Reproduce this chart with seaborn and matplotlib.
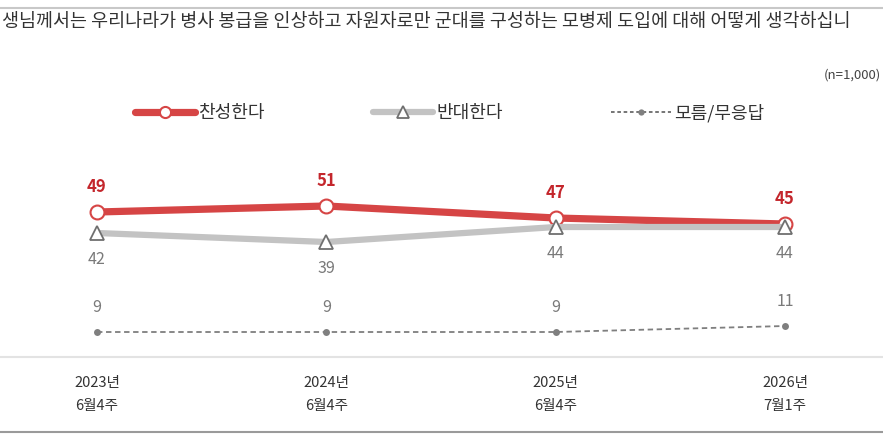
import seaborn as sns
import matplotlib.pyplot as plt
import pandas as pd

# survey waves and results (%)
periods = ["2023년\n6월4주", "2024년\n6월4주", "2025년\n6월4주", "2026년\n7월1주"]
agree = [49, 51, 47, 45]
disagree = [42, 39, 44, 44]
unknown = [9, 9, 9, 11]

TITLE = "생님께서는 우리나라가 병사 봉급을 인상하고 자원자로만 군대를 구성하는 모병제 도입에 대해 어떻게 생각하십니"

RED = "#d64545"
RED_TXT = "#c4262c"
GRAY = "#c3c3c3"
GRAY_TXT = "#7a7a7a"
DOT = "#7f7f7f"

sns.set_theme(style="white")
plt.rcParams['font.family'] = ['Noto Sans CJK KR', 'DejaVu Sans']

df = pd.DataFrame({"x": range(len(periods)), "agree": agree,
                   "disagree": disagree, "unknown": unknown})

fig = plt.figure(figsize=(8.83, 4.42), dpi=100)
ax = fig.add_axes([0, 85 / 442, 1, 207 / 442])

sns.lineplot(data=df, x="x", y="unknown", ax=ax, color=DOT, lw=1.3,
             linestyle=(0, (3, 2)), marker="o", markersize=5,
             markeredgewidth=0, markerfacecolor=DOT, label="모름/무응답", zorder=2)
sns.lineplot(data=df, x="x", y="agree", ax=ax, color=RED, lw=5.2,
             marker="o", markersize=10, markerfacecolor="white",
             markeredgecolor=RED, markeredgewidth=1.5, label="찬성한다", zorder=3)
sns.lineplot(data=df, x="x", y="disagree", ax=ax, color=GRAY, lw=4.5,
             marker="^", markersize=10, markerfacecolor="white",
             markeredgecolor="#6f6f6f", markeredgewidth=1.3, label="반대한다", zorder=4)

# px per unit = 3 ; x positions 97..785 px
ax.set_xlim(-97 / 229.33, (883 - 97) / 229.33)
ax.set_ylim(0.667, 69.67)

for i in df["x"]:
    ax.annotate(str(agree[i]), (i, agree[i]), xytext=(0, 18), textcoords="offset points",
                ha="center", va="center", fontsize=12, fontweight="bold", color=RED_TXT)
    ax.annotate(str(disagree[i]), (i, disagree[i]), xytext=(0, -19), textcoords="offset points",
                ha="center", va="center", fontsize=11.5, color=GRAY_TXT)
    ax.annotate(str(unknown[i]), (i, unknown[i]), xytext=(0, 18), textcoords="offset points",
                ha="center", va="center", fontsize=11.5, color=GRAY_TXT)

ax.set_xticks(df["x"], periods)
ax.tick_params(axis="x", length=0, pad=14, labelsize=10.5, labelcolor="#333333")
ax.set_yticks([])
ax.set_xlabel("")
ax.set_ylabel("")
for s in ["top", "left", "right"]:
    ax.spines[s].set_visible(False)
ax.spines["bottom"].set_color("#e3e3e3")
ax.spines["bottom"].set_linewidth(1.5)
for t in ax.get_xticklabels():
    t.set_linespacing(1.75)

handles, labels = ax.get_legend_handles_labels()
order = [1, 2, 0]
ax.get_legend().remove()
leg = fig.legend([handles[k] for k in order], [labels[k] for k in order],
                 loc="center left", bbox_to_anchor=(135 / 883, 1 - 113 / 442), ncol=3,
                 frameon=False, fontsize=13, handlelength=3.3, handletextpad=0.2,
                 columnspacing=6.0, borderaxespad=0, borderpad=0, labelcolor="#333333")
for h, ms in zip(leg.legend_handles, [8, 8, 4.5]):
    h.set_markersize(ms)
leg.legend_handles[2].set_linestyle((0, (2, 1.5)))
leg.legend_handles[2].set_linewidth(1.3)
leg.legend_handles[2].set_color("#6a6a6a")

fig.text(2 / 883, 1 - 22 / 442, TITLE, ha="left", va="center", fontsize=13.3, color="#333333")
fig.text(881 / 883, 1 - 75 / 442, "(n=1,000)", ha="right", va="center", fontsize=9.5, color="#444444")

fig.add_artist(plt.Line2D([0, 1], [1 - 8 / 442, 1 - 8 / 442], color="#c8c8c8", lw=1.5))
fig.add_artist(plt.Line2D([0, 1], [1 - 432 / 442, 1 - 432 / 442], color="#9a9a9a", lw=1.5))

fig.savefig("out.png", dpi=100)
